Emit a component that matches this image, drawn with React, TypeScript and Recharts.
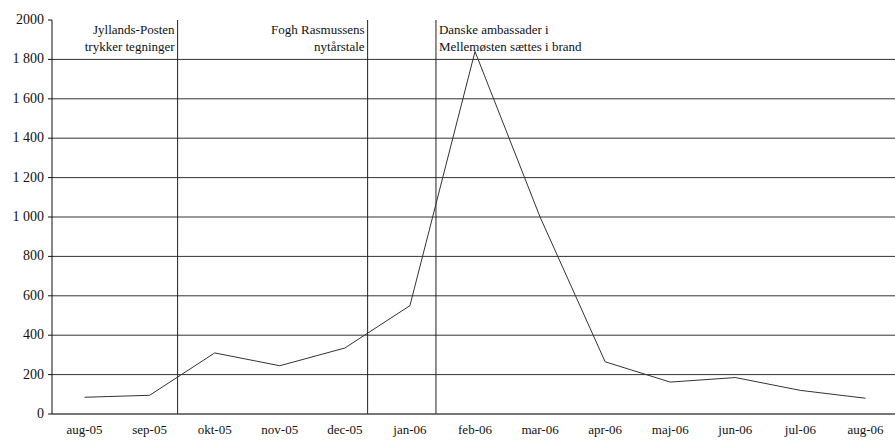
import React from 'react';
import {
  LineChart,
  Line,
  XAxis,
  YAxis,
  CartesianGrid,
  ReferenceLine,
} from 'recharts';

const months = [
  'aug-05', 'sep-05', 'okt-05', 'nov-05', 'dec-05', 'jan-06', 'feb-06',
  'mar-06', 'apr-06', 'maj-06', 'jun-06', 'jul-06', 'aug-06',
];
const articles = [85, 95, 310, 245, 335, 550, 1840, 1000, 265, 162, 185, 120, 80];

const yTicks = [0, 200, 400, 600, 800, 1000, 1200, 1400, 1600, 1800, 2000];
const gridValues = [0, 200, 400, 600, 800, 1000, 1200, 1400, 1600, 1800];

// events, placed on the month index scale
const eventPos = [1.43, 4.35, 5.4];
const eventText = [
  ['Jyllands-Posten', 'trykker tegninger'],
  ['Fogh Rasmussens', 'nytårstale'],
  ['Danske ambassader i', 'Mellemøsten sættes i brand'],
];
const eventSide = ['left', 'left', 'right'];

const data = articles.map((v, i) => ({ idx: i, value: v }));

const FONT = 'Liberation Serif, Times New Roman, serif';

const fmtY = (v: number) => (v >= 1000 && v < 2000 ? `${Math.floor(v / 1000)} ${String(v % 1000).padStart(3, '0')}` : String(v));

const renderXTick = (props: any) => {
  const { x, y, payload } = props;
  return (
    <text key={`x${payload.value}`} x={x} y={y + 10} textAnchor="middle" fill="#111" style={{ fontFamily: FONT, fontSize: 13 }}>
      {months[payload.value]}
    </text>
  );
};

const renderYTick = (props: any) => {
  const { x, y, payload } = props;
  return (
    <text key={`y${payload.value}`} x={x} y={y + 4} textAnchor="end" fill="#111" style={{ fontFamily: FONT, fontSize: 14 }}>
      {fmtY(payload.value)}
    </text>
  );
};

const EventLabel = (lines: string[], side: string) => (props: any) => {
  const vb = props.viewBox || {};
  const left = side === 'left';
  const x = left ? vb.x - 3 : vb.x + 3;
  return (
    <text
      x={x}
      y={vb.y + 14}
      textAnchor={left ? 'end' : 'start'}
      style={{ fontFamily: FONT, fontSize: 13 }}
      fill="#111"
    >
      <tspan x={x} dy={0}>{lines[0]}</tspan>
      <tspan x={x} dy={17}>{lines[1]}</tspan>
    </text>
  );
};

export default function App() {
  return (
    <div style={{ position: 'absolute', left: 0, top: 0, background: '#fff' }}>
      <LineChart
        width={895}
        height={442}
        data={data}
        margin={{ top: 20, right: -3, left: 0, bottom: 0 }}
      >
        <CartesianGrid
          vertical={false}
          horizontalValues={gridValues}
          stroke="#333"
          strokeWidth={1}
        />
        <XAxis
          dataKey="idx"
          type="number"
          domain={[-0.5, 12.5]}
          ticks={months.map((_, i) => i)}
          height={28}
          tickLine={false}
          axisLine={{ stroke: '#555' }}
          tick={renderXTick}
          tickMargin={4}
        />
        <YAxis
          domain={[0, 2000]}
          ticks={yTicks}
          width={52}
          interval={0}
          axisLine={{ stroke: '#111' }}
          tickLine={{ stroke: '#111' }}
          tickSize={4}
          tickMargin={4}
          tick={renderYTick}
        />
        {eventPos.map((p, i) => (
          <ReferenceLine
            key={i}
            x={p}
            stroke="#222"
            strokeWidth={1}
            label={EventLabel(eventText[i], eventSide[i])}
          />
        ))}
        <Line
          type="linear"
          dataKey="value"
          stroke="#333"
          strokeWidth={1}
          dot={false}
          isAnimationActive={false}
        />
      </LineChart>
    </div>
  );
}
